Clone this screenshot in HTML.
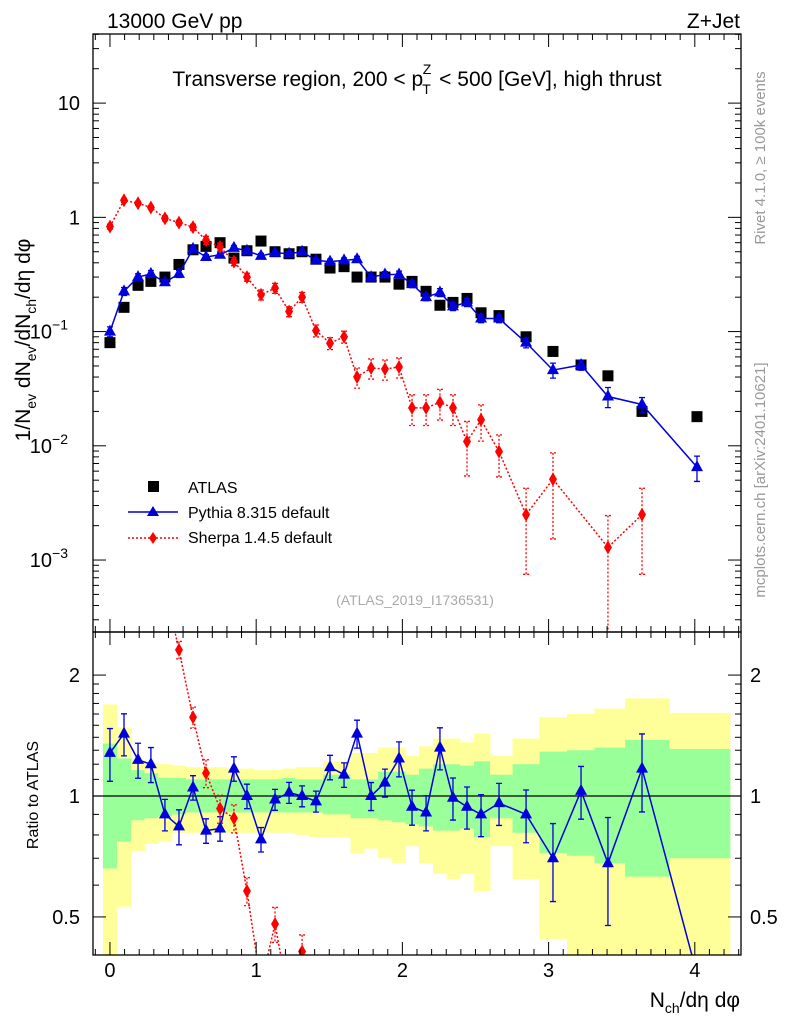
<!DOCTYPE html>
<html><head><meta charset="utf-8"><style>
html,body{margin:0;background:#fff;width:786px;height:1024px;overflow:hidden;}
svg{display:block;font-family:"Liberation Sans",sans-serif;}
</style></head><body>
<svg id="chart" width="786" height="1024" viewBox="0 0 786 1024" xmlns="http://www.w3.org/2000/svg">
<g id="bands"></g>
<g id="marks"></g>
<g id="axes"></g>
<text x="107" y="28" font-size="21">13000 GeV pp</text>
<text x="740" y="28" font-size="21" text-anchor="end">Z+Jet</text>
<text x="417" y="86" font-size="21" text-anchor="middle">Transverse region, 200 &lt; p<tspan font-size="14" dy="8" dx="-1">T</tspan><tspan font-size="14" dy="-20" dx="-8">Z</tspan><tspan dy="12" dx="2"> &lt; 500 [GeV], high thrust</tspan></text>
<text transform="translate(30,340) rotate(-90)" font-size="21" text-anchor="middle">1/N<tspan font-size="14" dy="6">ev</tspan><tspan dy="-6"> dN</tspan><tspan font-size="14" dy="6">ev</tspan><tspan dy="-6">/dN</tspan><tspan font-size="14" dy="6">ch</tspan><tspan dy="-6">/dη dφ</tspan></text>
<text transform="translate(765,158) rotate(-90)" font-size="15" fill="#999" text-anchor="middle">Rivet 4.1.0, ≥ 100k events</text>
<text transform="translate(765,480) rotate(-90)" font-size="15" fill="#999" text-anchor="middle">mcplots.cern.ch [arXiv:2401.10621]</text>
<text x="415" y="605" font-size="14" fill="#aaa" text-anchor="middle">(ATLAS_2019_I1736531)</text>
<text transform="translate(38,795) rotate(-90)" font-size="16" text-anchor="middle">Ratio to ATLAS</text>
<text x="740" y="1007" font-size="21" text-anchor="end">N<tspan font-size="14" dy="6">ch</tspan><tspan dy="-6">/dη dφ</tspan></text>
<g>
<rect x="148" y="481" width="11" height="11" fill="#000"/>
<text x="188" y="493" font-size="16">ATLAS</text>
<line x1="128" y1="512" x2="178" y2="512" stroke="#00c" stroke-width="1.5"/>
<polygon points="153,506 159,516 147,516" fill="#00c"/>
<text x="188" y="518" font-size="16">Pythia 8.315 default</text>
<line x1="128" y1="538" x2="178" y2="538" stroke="#f00" stroke-width="1.5" stroke-dasharray="2,2"/>
<polygon points="153,532 157,538 153,544 149,538" fill="#f00"/>
<text x="188" y="543" font-size="16">Sherpa 1.4.5 default</text>
</g>
</svg>
<script>
const xVals=[0,.096,.192,.280,.376,.472,.568,.657,.753,.848,.937,1.033,1.129,1.225,1.314,1.409,1.505,1.601,1.690,1.786,1.881,1.977,2.066,2.162,2.257,2.346,2.442,2.538,2.661,2.846,3.030,3.222,3.406,3.639,4.015];
const atlasVals=[0.080,0.163,0.254,0.275,0.30,0.387,0.52,0.557,0.60,0.44,0.51,0.62,0.50,0.48,0.50,0.43,0.36,0.37,0.30,0.30,0.30,0.26,0.275,0.225,0.17,0.18,0.195,0.146,0.138,0.090,0.067,0.051,0.041,0.020,0.018];
const pythiaVals=[0.10,0.225,0.30,0.32,0.27,0.32,0.53,0.45,0.47,0.54,0.51,0.46,0.49,0.48,0.50,0.42,0.41,0.42,0.43,0.30,0.316,0.316,0.26,0.20,0.22,0.166,0.18,0.13,0.13,0.08,0.046,0.051,0.027,0.023,0.0065];
const pythiaErr=[0.1,0.08,0.07,0.07,0.06,0.07,0.05,0.05,0.05,0.05,0.05,0.05,0.04,0.04,0.04,0.04,0.05,0.05,0.06,0.06,0.06,0.07,0.07,0.07,0.08,0.08,0.08,0.08,0.08,0.1,0.15,0.1,0.2,0.15,0.25];
const pythiaRatioErr=[0.15,0.12,0.1,0.1,0.09,0.1,0.07,0.07,0.07,0.07,0.07,0.07,0.06,0.06,0.06,0.06,0.07,0.07,0.08,0.08,0.08,0.1,0.1,0.1,0.12,0.12,0.12,0.12,0.12,0.15,0.22,0.15,0.3,0.22,0];
const sherpaVals=[0.83,1.41,1.33,1.22,0.98,0.90,0.82,0.63,0.55,0.41,0.30,0.21,0.24,0.15,0.20,0.102,0.079,0.090,0.040,0.048,0.047,0.049,0.0215,0.0215,0.024,0.0215,0.0109,0.0169,0.0089,0.0025,0.0051,null,0.00129,0.0025,null];
const sherpaErr=[0.05,0.04,0.04,0.04,0.05,0.05,0.06,0.08,0.08,0.08,0.08,0.1,0.1,0.1,0.1,0.12,0.12,0.12,0.2,0.2,0.2,0.2,0.3,0.3,0.3,0.3,0.5,0.35,0.4,0.7,0.7,0,0.9,0.7,0];
const pythiaRatio=[1.28,1.43,1.23,1.20,0.90,0.84,1.05,0.82,0.83,1.17,1.0,0.78,0.98,1.02,1.0,0.97,1.18,1.13,1.43,1.0,1.08,1.24,0.94,0.91,1.32,0.99,0.94,0.90,0.96,0.90,0.70,1.03,0.68,1.17,0.36];
const sherpaRatio=[10.4,8.6,5.2,4.4,3.3,2.31,1.57,1.14,0.93,0.88,0.58,0.34,0.48,0.31,0.41,0.24,0.22,0.24,0.13,0.16,0.16,0.19,0.08,0.1,0.14,0.12,0.056,0.12,0.064,0.028,0.076,null,0.031,0.125,null];
const yellowTop=[1.69,1.48,1.23,1.21,1.20,1.19,1.18,1.18,1.18,1.17,1.17,1.16,1.16,1.17,1.18,1.18,1.22,1.22,1.28,1.28,1.32,1.32,1.26,1.33,1.39,1.39,1.36,1.43,1.26,1.39,1.57,1.60,1.65,1.75,1.61];
const greenTop=[1.35,1.24,1.16,1.14,1.11,1.11,1.10,1.10,1.10,1.10,1.10,1.10,1.10,1.11,1.10,1.10,1.13,1.13,1.10,1.10,1.15,1.15,1.13,1.17,1.20,1.20,1.19,1.22,1.13,1.20,1.29,1.30,1.32,1.38,1.31];
const greenBot=[0.66,0.77,0.87,0.88,0.89,0.90,0.91,0.91,0.91,0.91,0.91,0.91,0.91,0.91,0.91,0.91,0.90,0.90,0.88,0.88,0.87,0.86,0.85,0.84,0.82,0.82,0.83,0.79,0.88,0.81,0.72,0.71,0.68,0.63,0.70];
const yellowBot=[0.3,0.53,0.73,0.76,0.77,0.81,0.81,0.81,0.81,0.81,0.81,0.81,0.81,0.81,0.80,0.79,0.79,0.79,0.72,0.74,0.70,0.68,0.75,0.68,0.64,0.62,0.64,0.58,0.75,0.62,0.44,0.3,0.3,0.3,0.3];
const xTicks=[0,1,2,3,4];

const NS="http://www.w3.org/2000/svg";
const L=93,R=741,T=34,MB=632,RB=955;
const X0=-0.116,X1=4.316;
const sx=v=>L+(v-X0)/(X1-X0)*(R-L);
const LT=1.605,LB=-3.63;
const sy=v=>T+(LT-Math.log10(v))/(LT-LB)*(MB-T);
const RT=Math.log10(2.56),RBm=Math.log10(0.402);
const ry=v=>MB+(RT-Math.log10(v))/(RT-RBm)*(RB-MB);
function mk(tag,attrs,parent){const e=document.createElementNS(NS,tag);for(const k in attrs)e.setAttribute(k,attrs[k]);parent.appendChild(e);return e;}
const bands=document.getElementById('bands'),marks=document.getElementById('marks'),axes=document.getElementById('axes');
const cl=n=>Math.max(MB,Math.min(RB,n));
const defs=mk('defs',{},document.getElementById('chart'));
const c1=mk('clipPath',{id:'cm'},defs);mk('rect',{x:L,y:T,width:R-L,height:MB-T},c1);
const c2=mk('clipPath',{id:'cr'},defs);mk('rect',{x:L,y:MB,width:R-L,height:RB-MB},c2);
const edges=[-0.048];
for(let i=0;i<xVals.length-1;i++)edges.push((xVals[i]+xVals[i+1])/2);
edges.push(4.24);
for(let i=0;i<xVals.length;i++){
  const xa=sx(edges[i]),xb=sx(edges[i+1]);
  let r=mk('rect',{x:xa,y:cl(ry(yellowTop[i])),width:xb-xa+0.5,height:cl(ry(yellowBot[i]))-cl(ry(yellowTop[i])),fill:'#ffff99'},bands);
  
  
  r=mk('rect',{x:xa,y:cl(ry(greenTop[i])),width:xb-xa+0.5,height:cl(ry(greenBot[i]))-cl(ry(greenTop[i])),fill:'#99ff99'},bands);
  
  
}
let ln=mk('line',{x1:L,x2:R,y1:ry(1),y2:ry(1),stroke:'#000','stroke-width':1.3},marks);



function series(vals,errs,fy,color,dash,shape,clip,name,lo){
  const g=mk('g',{'clip-path':'url(#'+clip+')'},marks);
  
  
  let d='',started=false;
  vals.forEach((v,i)=>{if(v==null){return;}const p=sx(xVals[i])+','+fy(v);d+=(started?'L':'M')+p;started=true;});
  mk('path',{d:d,fill:'none',stroke:color,'stroke-width':1.5,'stroke-dasharray':dash},g);
  vals.forEach((v,i)=>{
    if(v==null)return;
    const x=sx(xVals[i]),y=fy(v);
    const e=errs[i]*v;
    if(e>0){
      const y1=fy(v+e),y2=(v-e>lo)?fy(v-e):fy(lo);
      mk('path',{d:`M${x},${y1}L${x},${y2}M${x-3},${y1}L${x+3},${y1}M${x-3},${y2}L${x+3},${y2}`,stroke:color,'stroke-width':1.3,'stroke-dasharray':dash,fill:'none'},g);
    }
    let m;
    if(shape==='tri')m=mk('polygon',{points:`${x},${y-7} ${x+6},${y+4} ${x-6},${y+4}`,fill:color},g);
    else m=mk('polygon',{points:`${x},${y-7} ${x+4},${y} ${x},${y+7} ${x-4},${y}`,fill:color},g);
    
    
  });
}
atlasVals.forEach((v,i)=>{
  const r=mk('rect',{x:sx(xVals[i])-5.5,y:sy(v)-5.5,width:11,height:11,fill:'#000'},marks);
  
  
});
series(pythiaVals,pythiaErr,sy,'#0000dd','none','tri','cm','pythia-series',1e-5);
series(sherpaVals,sherpaErr,sy,'#ff0000','2,2','dia','cm','sherpa-series',1e-5);
series(pythiaRatio,pythiaRatioErr,ry,'#0000dd','none','tri','cr','pythia-ratio-series',0.01);
series(sherpaRatio,sherpaErr,ry,'#ff0000','2,2','dia','cr','sherpa-ratio-series',0.01);

[[T,MB],[MB,RB]].forEach(([a,b],k)=>{
  const f=mk('rect',{x:L,y:a,width:R-L,height:b-a,fill:'none',stroke:'#000','stroke-width':1.3},axes);
  
  
});
function xt(yb,yt){
  for(let v=-0.1;v<=4.31;v+=0.1){
    const vv=Math.round(v*10)/10;const maj=Math.abs(vv-Math.round(vv))<1e-6;const len=maj?13:6;const x=sx(vv);
    mk('line',{x1:x,x2:x,y1:yb,y2:yb-len,stroke:'#000'},axes);
    mk('line',{x1:x,x2:x,y1:yt,y2:yt+len,stroke:'#000'},axes);
  }
}
xt(MB,T);xt(RB,MB);
xTicks.forEach(v=>{const t=mk('text',{x:sx(v),y:977,'font-size':20,'text-anchor':'middle'},axes);t.textContent=v;

});
for(let dec=-4;dec<=1;dec++){
  for(let m=1;m<10;m++){
    const v=m*Math.pow(10,dec);const lv=Math.log10(v);if(lv>LT||lv<LB)continue;
    const y=sy(v),len=m===1?13:6;
    mk('line',{x1:L,x2:L+len,y1:y,y2:y,stroke:'#000'},axes);
    mk('line',{x1:R,x2:R-len,y1:y,y2:y,stroke:'#000'},axes);
  }
}
const yLabs=[[10,'10',null],[1,'1',null],[0.1,'10','−1'],[0.01,'10','−2'],[0.001,'10','−3']];
yLabs.forEach(([v,b,e])=>{
  const t=mk('text',{x:e?68:80,y:sy(v)+7,'font-size':20,'text-anchor':'end'},axes);
  t.textContent=b;
  
  
  if(e){const s=mk('tspan',{'font-size':14,dy:-9},t);s.textContent=e;}
});
[0.5,0.6,0.7,0.8,0.9,1,1.1,1.2,1.3,1.4,1.5,1.6,1.7,1.8,1.9,2].forEach(v=>{
  const maj=(v===0.5||v===1||v===2);const len=maj?13:6;const y=ry(v);
  mk('line',{x1:L,x2:L+len,y1:y,y2:y,stroke:'#000'},axes);
  mk('line',{x1:R,x2:R-len,y1:y,y2:y,stroke:'#000'},axes);
});
[[2,'2'],[1,'1'],[0.5,'0.5']].forEach(([v,s])=>{
  let t=mk('text',{x:80,y:ry(v)+7,'font-size':20,'text-anchor':'end'},axes);t.textContent=s;
  
  
  t=mk('text',{x:750,y:ry(v)+7,'font-size':20},axes);t.textContent=s;
  
  
});
</script>
</body></html>
